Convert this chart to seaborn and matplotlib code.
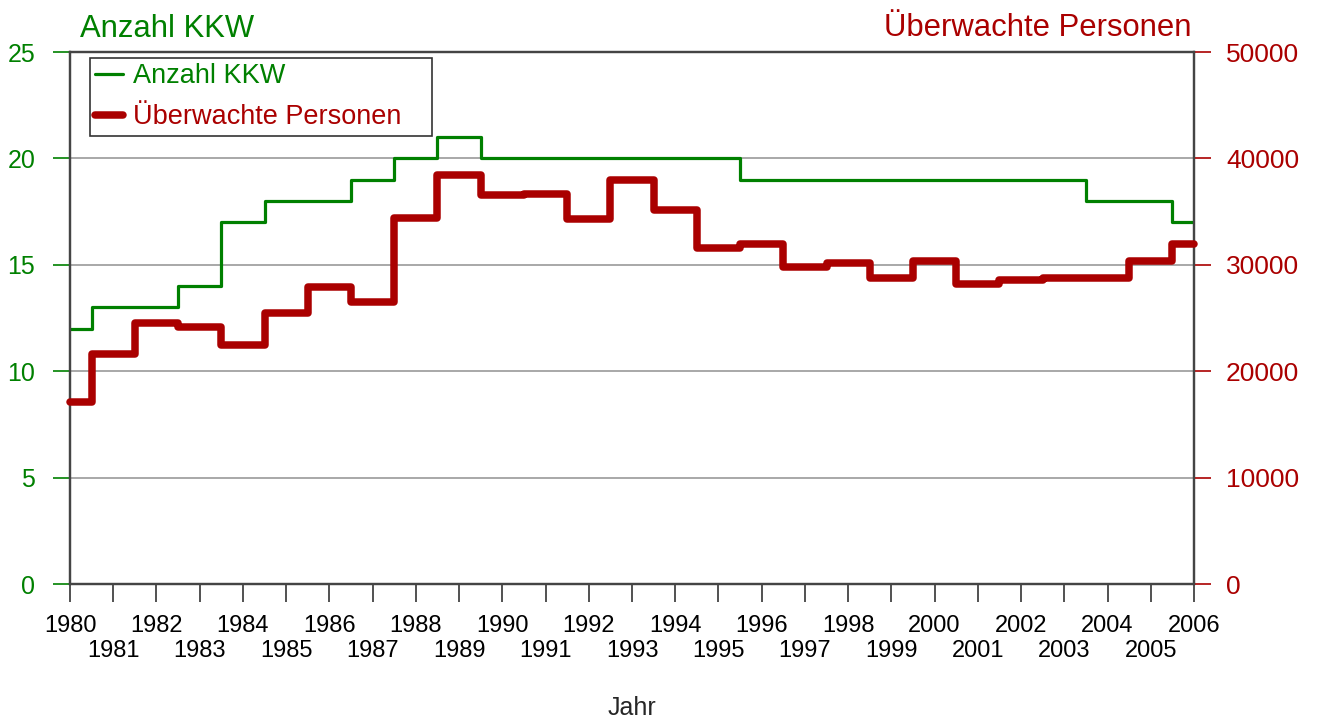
import numpy as np
import pandas as pd
import matplotlib
matplotlib.use("Agg")
import matplotlib.pyplot as plt
from matplotlib.lines import Line2D
import seaborn as sns

years = list(range(1980, 2007))
kkw = [12, 13, 13, 14, 17, 18, 18, 19, 20, 21, 20, 20, 20, 20, 20, 20,
       19, 19, 19, 19, 19, 19, 19, 19, 18, 18, 17]
personen = [17100, 21600, 24500, 24200, 22500, 25500, 27950, 26500, 34400, 38450,
            36550, 36650, 34300, 38000, 35150, 31550, 32000, 29750, 30200, 28800,
            30400, 28150, 28600, 28750, 28750, 30400, 32000]

green = "#008000"
red = "#aa0000"

df = pd.DataFrame({"Jahr": years, "KKW": kkw, "Personen": personen})

sns.set_style("white")
plt.rcParams["font.family"] = ["Liberation Sans", "DejaVu Sans"]

fig = plt.figure(figsize=(13.2, 7.2), dpi=100)
ax = fig.add_axes([70 / 1320, 1 - 584 / 720, 1124 / 1320, 532 / 720])
ax2 = ax.twinx()

sns.lineplot(data=df, x="Jahr", y="KKW", ax=ax, color=green, lw=2.3,
             drawstyle="steps-mid", zorder=3)
sns.lineplot(data=df, x="Jahr", y="Personen", ax=ax2, color=red, lw=5.4,
             drawstyle="steps-mid", solid_capstyle="round",
             solid_joinstyle="round", clip_on=False, zorder=3)

ax.set_xlim(1980, 2006)
ax.set_ylim(0, 25)
ax2.set_ylim(0, 50000)

ax.set_yticks(range(0, 26, 5))
ax2.set_yticks(range(0, 50001, 10000))
ax.yaxis.grid(True, color="#999999", lw=1.2)
ax.set_axisbelow(True)

# even years on the first row, odd years one row lower
even = [y for y in years if y % 2 == 0]
odd = [y for y in years if y % 2 == 1]
ax.set_xticks(even)
ax.set_xticklabels([str(y) for y in even])
ax.set_xticks(odd, minor=True)
ax.set_xticklabels([str(y) for y in odd], minor=True)
ax.tick_params(axis="x", which="both", direction="out", length=13, width=1.2,
               color="#333333", labelsize=17, labelcolor="black", bottom=True)
ax.tick_params(axis="x", which="major", pad=9)
ax.tick_params(axis="x", which="minor", pad=27)
ax.tick_params(axis="y", direction="out", length=12, width=1.2, color=green,
               labelsize=18, labelcolor=green, pad=13, left=True)
ax2.tick_params(axis="y", direction="out", length=12, width=1.2, color=red,
                labelsize=19, labelcolor=red, pad=11, right=True)

for a in (ax, ax2):
    for s in a.spines.values():
        s.set_color("#444444")
        s.set_linewidth(1.6)

ax.set_ylabel("")
ax2.set_ylabel("")
ax.set_xlabel("Jahr", fontsize=18, va="baseline")
ax.xaxis.set_label_coords(0.5, (584 - 715) / 532)

fig.text(80 / 1320, 1 - 37 / 720, "Anzahl KKW", color=green, fontsize=22.3,
         ha="left", va="baseline")
fig.text(1191 / 1320, 1 - 36 / 720, "Überwachte Personen", color=red, fontsize=22.3,
         ha="right", va="baseline")

handles = [Line2D([], [], color=green, lw=2.3),
           Line2D([], [], color=red, lw=5.4, solid_capstyle="round")]
leg = ax2.legend(handles, ["Anzahl KKW", "Überwachte Personen"], loc="upper left",
                 bbox_to_anchor=(20 / 1124, 0, 342 / 1124, 1 - 6 / 532), mode="expand",
                 fontsize=19.5, frameon=True, fancybox=False, edgecolor="black",
                 handlelength=1.0, handletextpad=0.4, borderpad=0.2,
                 borderaxespad=0, labelspacing=0.55)
leg.get_frame().set_linewidth(1.2)
for t, c in zip(leg.get_texts(), (green, red)):
    t.set_color(c)

fig.savefig("out.png", dpi=100)
